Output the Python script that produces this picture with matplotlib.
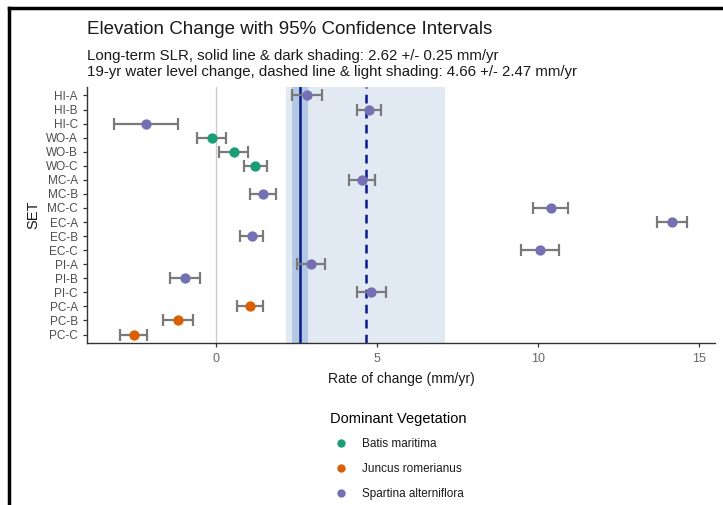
import numpy as np
import matplotlib.pyplot as plt
from matplotlib.lines import Line2D

plt.rcParams['font.family'] = ['Liberation Sans', 'DejaVu Sans']

# Dados
sets = ['HI-A', 'HI-B', 'HI-C', 'WO-A', 'WO-B', 'WO-C', 'MC-A', 'MC-B', 'MC-C',
        'EC-A', 'EC-B', 'EC-C', 'PI-A', 'PI-B', 'PI-C', 'PC-A', 'PC-B', 'PC-C']
rate = [2.83, 4.75, -2.16, -0.13, 0.55, 1.23, 4.53, 1.46, 10.40,
        14.17, 1.12, 10.07, 2.95, -0.95, 4.83, 1.07, -1.17, -2.55]
ci = [0.48, 0.38, 0.99, 0.45, 0.46, 0.37, 0.40, 0.40, 0.55,
      0.47, 0.36, 0.59, 0.44, 0.47, 0.45, 0.40, 0.46, 0.42]
veg = ['S', 'S', 'S', 'B', 'B', 'B', 'S', 'S', 'S',
       'S', 'S', 'S', 'S', 'S', 'S', 'J', 'J', 'J']
veg_names = {'B': 'Batis maritima', 'J': 'Juncus romerianus', 'S': 'Spartina alterniflora'}
veg_cols = {'B': '#1b9e77', 'J': '#d95f02', 'S': '#7570b3'}

slr, slr_ci = 2.62, 0.25
wl, wl_ci = 4.66, 2.47

fig = plt.figure(figsize=(7.23, 5.05), dpi=100)
ax = fig.add_axes([87/723, 162/505, 628/723, 256/505])

y = np.arange(len(sets))

# sombreamento
ax.axvspan(wl - wl_ci, wl + wl_ci, color='#e1e9f3', lw=0, zorder=0)
ax.axvspan(slr - slr_ci, slr + slr_ci, color='#b3c9e3', lw=0, zorder=0.5)
ax.axvline(0, color='#cccccc', lw=1, zorder=1)
ax.axvline(slr, color='#0a1a8c', lw=1.8, zorder=2)
ax.axvline(wl, color='#0a1a8c', lw=1.8, ls=(0, (3.5, 2.5)), zorder=2)

ax.errorbar(rate, y, xerr=ci, fmt='none', ecolor='#7a7a7a', elinewidth=1.6,
            capsize=4.3, capthick=1.6, zorder=3)
for k in ['B', 'J', 'S']:
    idx = [i for i, v in enumerate(veg) if v == k]
    ax.scatter([rate[i] for i in idx], [y[i] for i in idx], s=55, color=veg_cols[k],
               zorder=4, lw=0)

ax.set_xlim(-4.0, 15.5)
ax.set_ylim(len(sets) - 0.4, -0.6)
ax.set_yticks(y)
ax.set_yticklabels(sets)
ax.set_xticks([0, 5, 10, 15])
ax.tick_params(axis='y', colors='#333333', labelcolor='#4d4d4d', labelsize=8.5,
               length=3, width=0.9)
ax.tick_params(axis='x', colors='#333333', labelcolor='#666666', labelsize=9,
               length=3, width=0.9, pad=4)
for s in ['top', 'right']:
    ax.spines[s].set_visible(False)
for s in ['left', 'bottom']:
    ax.spines[s].set_color('#333333')
    ax.spines[s].set_linewidth(1.0)
ax.set_ylabel('SET', fontsize=10.5, color='#1a1a1a', labelpad=4)
ax.set_xlabel('Rate of change (mm/yr)', fontsize=10, color='#1a1a1a', labelpad=5)

fig.text(87/723, 1 - 30/505, 'Elevation Change with 95% Confidence Intervals',
         fontsize=13.5, va='center', color='#1a1a1a')
fig.text(87/723, 1 - 56/505,
         'Long-term SLR, solid line & dark shading: %.2f +/- %.2f mm/yr' % (slr, slr_ci),
         fontsize=10.8, va='center', color='#1a1a1a')
fig.text(87/723, 1 - 72/505,
         '19-yr water level change, dashed line & light shading: %.2f +/- %.2f mm/yr' % (wl, wl_ci),
         fontsize=10.8, va='center', color='#1a1a1a')

handles = [Line2D([], [], marker='o', ls='none', color=veg_cols[k], markersize=6,
                  markeredgewidth=0, label=veg_names[k]) for k in ['B', 'J', 'S']]
leg = fig.legend(handles=handles, title='Dominant Vegetation', loc='upper left',
                 bbox_to_anchor=(319/723, 1 - 401/505), frameon=False, fontsize=8.5,
                 title_fontsize=10.5, handletextpad=0.7, labelspacing=1.08,
                 alignment='left')
for t in leg.get_texts():
    t.set_color('#1a1a1a')

# moldura da captura
fig.add_artist(Line2D([9/723, 9/723], [0, 1 - 8/505], color='black', lw=2.5))
fig.add_artist(Line2D([9/723, 1], [1 - 8/505, 1 - 8/505], color='black', lw=2.5))

fig.savefig('out.png', dpi=100)
